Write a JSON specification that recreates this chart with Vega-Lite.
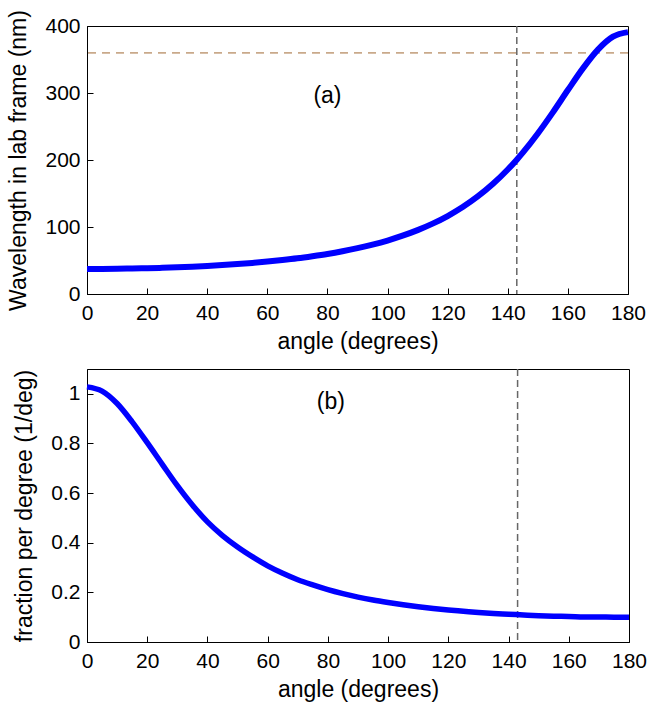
{
  "$schema": "https://vega.github.io/schema/vega-lite/v6.json",
  "padding": {"left": 7, "top": 9, "right": 2, "bottom": 2},
  "background": "white",
  "columns": 1,
  "align": "none",
  "spacing": 13,
  "config": {
    "font": "Liberation Sans",
    "view": {"stroke": "black", "strokeWidth": 1},
    "axis": {
      "grid": false,
      "domainColor": "black",
      "tickColor": "black",
      "tickSize": -6,
      "labelFontSize": 21,
      "titleFontSize": 23,
      "titleFontWeight": "normal",
      "labelColor": "black",
      "titleColor": "black",
      "labelFont": "Liberation Sans",
      "titleFont": "Liberation Sans"
    },
    "axisX": {"labelPadding": 14, "titlePadding": 7, "labelFlush": false},
    "axisY": {"labelPadding": 13, "titlePadding": 14}
  },
  "datasets": {
    "wl": [
      {"angle": 0, "wavelength": 37.5}, {"angle": 5, "wavelength": 37.5}, {"angle": 10, "wavelength": 37.7},
      {"angle": 15, "wavelength": 38.1}, {"angle": 20, "wavelength": 38.5}, {"angle": 25, "wavelength": 39.1},
      {"angle": 30, "wavelength": 39.9}, {"angle": 35, "wavelength": 40.8}, {"angle": 40, "wavelength": 41.9},
      {"angle": 45, "wavelength": 43.2}, {"angle": 50, "wavelength": 44.7}, {"angle": 55, "wavelength": 46.4},
      {"angle": 60, "wavelength": 48.4}, {"angle": 65, "wavelength": 50.7}, {"angle": 70, "wavelength": 53.3},
      {"angle": 75, "wavelength": 56.4}, {"angle": 80, "wavelength": 59.8}, {"angle": 85, "wavelength": 63.8},
      {"angle": 90, "wavelength": 68.4}, {"angle": 95, "wavelength": 73.7}, {"angle": 100, "wavelength": 79.8},
      {"angle": 105, "wavelength": 87.0}, {"angle": 110, "wavelength": 95.3}, {"angle": 115, "wavelength": 105.0},
      {"angle": 120, "wavelength": 116.4}, {"angle": 125, "wavelength": 129.8}, {"angle": 130, "wavelength": 145.6},
      {"angle": 135, "wavelength": 164.1}, {"angle": 140, "wavelength": 185.8}, {"angle": 143, "wavelength": 200.5},
      {"angle": 145, "wavelength": 211.0}, {"angle": 150, "wavelength": 239.6}, {"angle": 155, "wavelength": 271.1},
      {"angle": 160, "wavelength": 304.4}, {"angle": 165, "wavelength": 336.8}, {"angle": 170, "wavelength": 364.8},
      {"angle": 175, "wavelength": 384.1}, {"angle": 180, "wavelength": 390.9}
    ],
    "fr": [
      {"angle": 0, "fraction": 1.028}, {"angle": 5, "fraction": 1.011}, {"angle": 10, "fraction": 0.961},
      {"angle": 15, "fraction": 0.887}, {"angle": 20, "fraction": 0.803}, {"angle": 25, "fraction": 0.716},
      {"angle": 30, "fraction": 0.630}, {"angle": 35, "fraction": 0.552}, {"angle": 40, "fraction": 0.484},
      {"angle": 45, "fraction": 0.429}, {"angle": 50, "fraction": 0.383}, {"angle": 55, "fraction": 0.343},
      {"angle": 60, "fraction": 0.307}, {"angle": 65, "fraction": 0.277}, {"angle": 70, "fraction": 0.251},
      {"angle": 75, "fraction": 0.230}, {"angle": 80, "fraction": 0.211}, {"angle": 85, "fraction": 0.195},
      {"angle": 90, "fraction": 0.181}, {"angle": 95, "fraction": 0.169}, {"angle": 100, "fraction": 0.159},
      {"angle": 105, "fraction": 0.150}, {"angle": 110, "fraction": 0.142}, {"angle": 115, "fraction": 0.135},
      {"angle": 120, "fraction": 0.129}, {"angle": 125, "fraction": 0.124}, {"angle": 130, "fraction": 0.119},
      {"angle": 135, "fraction": 0.115}, {"angle": 140, "fraction": 0.112}, {"angle": 145, "fraction": 0.109},
      {"angle": 150, "fraction": 0.106}, {"angle": 155, "fraction": 0.104}, {"angle": 160, "fraction": 0.103},
      {"angle": 165, "fraction": 0.101}, {"angle": 170, "fraction": 0.1005}, {"angle": 175, "fraction": 0.100},
      {"angle": 180, "fraction": 0.0998}
    ]
  },
  "concat": [
    {
      "width": 541,
      "height": 268,
      "layer": [
        {
          "data": {"values": [{"wavelength": 360}]},
          "mark": {"type": "rule", "color": "#c9a98a", "strokeDash": [8, 6], "strokeWidth": 1.8},
          "encoding": {"y": {"field": "wavelength", "type": "quantitative"}}
        },
        {
          "data": {"values": [{"angle": 143}]},
          "mark": {"type": "rule", "color": "#666666", "strokeDash": [7, 4], "strokeWidth": 1.5},
          "encoding": {"x": {"field": "angle", "type": "quantitative"}}
        },
        {
          "data": {"name": "wl"},
          "mark": {"type": "line", "color": "#0000ff", "strokeWidth": 6, "interpolate": "monotone"},
          "encoding": {
            "x": {
              "field": "angle", "type": "quantitative",
              "scale": {"domain": [0, 180], "nice": false},
              "axis": {"title": "angle (degrees)", "values": [0, 20, 40, 60, 80, 100, 120, 140, 160, 180]}
            },
            "y": {
              "field": "wavelength", "type": "quantitative",
              "scale": {"domain": [0, 400], "nice": false},
              "axis": {"title": "Wavelength in lab frame (nm)", "values": [0, 100, 200, 300, 400]}
            }
          }
        },
        {
          "data": {"values": [{"angle": 80, "wavelength": 295, "label": "(a)"}]},
          "mark": {"type": "text", "fontSize": 23, "font": "Liberation Sans", "color": "black"},
          "encoding": {
            "x": {"field": "angle", "type": "quantitative"},
            "y": {"field": "wavelength", "type": "quantitative"},
            "text": {"field": "label"}
          }
        }
      ]
    },
    {
      "width": 542,
      "height": 273,
      "layer": [
        {
          "data": {"values": [{"angle": 143}]},
          "mark": {"type": "rule", "color": "#666666", "strokeDash": [7, 4], "strokeWidth": 1.5},
          "encoding": {"x": {"field": "angle", "type": "quantitative"}}
        },
        {
          "data": {"name": "fr"},
          "mark": {"type": "line", "color": "#0000ff", "strokeWidth": 5.5, "interpolate": "monotone"},
          "encoding": {
            "x": {
              "field": "angle", "type": "quantitative",
              "scale": {"domain": [0, 180], "nice": false},
              "axis": {"title": "angle (degrees)", "values": [0, 20, 40, 60, 80, 100, 120, 140, 160, 180]}
            },
            "y": {
              "field": "fraction", "type": "quantitative",
              "scale": {"domain": [0, 1.1], "nice": false},
              "axis": {"title": "fraction per degree (1/deg)", "values": [0, 0.2, 0.4, 0.6, 0.8, 1], "format": "~g"}
            }
          }
        },
        {
          "data": {"values": [{"angle": 81, "fraction": 0.966, "label": "(b)"}]},
          "mark": {"type": "text", "fontSize": 23, "font": "Liberation Sans", "color": "black"},
          "encoding": {
            "x": {"field": "angle", "type": "quantitative"},
            "y": {"field": "fraction", "type": "quantitative"},
            "text": {"field": "label"}
          }
        }
      ]
    }
  ]
}
